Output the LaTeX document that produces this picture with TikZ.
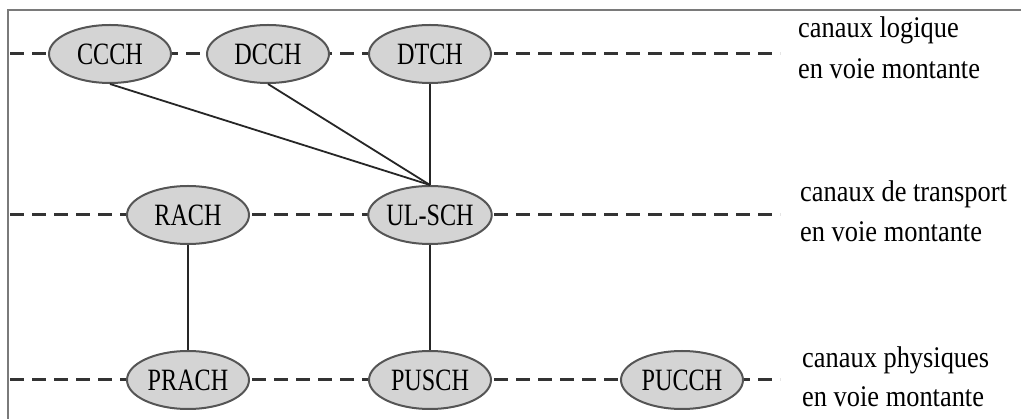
\documentclass[tikz,border=0pt]{standalone}
\usepackage{fontspec}
\setmainfont{Liberation Serif}
\usetikzlibrary{shapes.geometric}
\definecolor{chanfill}{HTML}{D4D4D4}
\definecolor{chanedge}{HTML}{555555}
\definecolor{framegray}{HTML}{7A7A7A}
\definecolor{dashgray}{HTML}{333333}
\newcommand{\chantext}[1]{\scalebox{0.78}[1]{\fontsize{31}{31}\selectfont #1}}
\newcommand{\laytext}[1]{\scalebox{0.88}[1]{\fontsize{30}{30}\selectfont #1}}
\tikzset{
  chan/.style={ellipse, draw=chanedge, line width=2pt, fill=chanfill,
    minimum width=122pt, minimum height=58pt, inner sep=0pt},
  layerline/.style={draw=dashgray, line width=3pt, dash pattern=on 14pt off 8pt},
  link/.style={draw=black!85, line width=1.8pt},
  layerlabel/.style={anchor=base west, inner sep=0pt},
}
\begin{document}
\begin{tikzpicture}[x=1pt,y=-1pt]
  \useasboundingbox (0,0) rectangle (1021,419);
  \fill[white] (0,0) rectangle (1021,419);
  % open frame: top and left edges
  \draw[framegray, line width=2pt] (8,419) -- (8,10) -- (1021,10);

  % layer guide lines
  \coordinate (l1a) at (10,54);  \coordinate (l1b) at (780,54);
  \coordinate (l2a) at (10,215); \coordinate (l2b) at (780,215);
  \coordinate (l3a) at (10,380); \coordinate (l3b) at (780,380);
  \draw[layerline] (l1a) -- (l1b);
  \draw[layerline] (l2a) -- (l2b);
  \draw[layerline] (l3a) -- (l3b);

  % logical channels
  \node[chan] (ccch) at (110,54) {\chantext{CCCH}};
  \node[chan] (dcch) at (268,54) {\chantext{DCCH}};
  \node[chan] (dtch) at (430,54) {\chantext{DTCH}};
  % transport channels
  \node[chan] (rach) at (188,215) {\chantext{RACH}};
  \node[chan] (ulsch) at (430,215) {\chantext{UL-SCH}};
  % physical channels
  \node[chan] (prach) at (188,380) {\chantext{PRACH}};
  \node[chan] (pusch) at (430,380) {\chantext{PUSCH}};
  \node[chan] (pucch) at (682,380) {\chantext{PUCCH}};

  % mappings
  \draw[link] (ccch.south) -- (ulsch.north);
  \draw[link] (dcch.south) -- (ulsch.north);
  \draw[link] (dtch.south) -- (ulsch.north);
  \draw[link] (rach.south) -- (prach.north);
  \draw[link] (ulsch.south) -- (pusch.north);

  % layer labels
  \node[layerlabel] (lab1a) at (798,38) {\laytext{canaux logique}};
  \node[layerlabel] (lab1b) at (798,79) {\laytext{en voie montante}};
  \node[layerlabel] (lab2a) at (800,202) {\laytext{canaux de transport}};
  \node[layerlabel] (lab2b) at (800,242) {\laytext{en voie montante}};
  \node[layerlabel] (lab3a) at (802,368) {\laytext{canaux physiques}};
  \node[layerlabel] (lab3b) at (802,407) {\laytext{en voie montante}};
\end{tikzpicture}
\end{document}
